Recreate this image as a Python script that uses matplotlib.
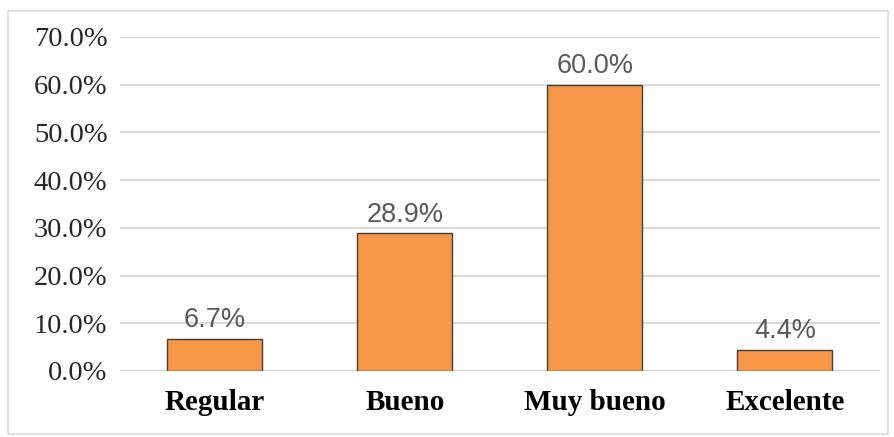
import matplotlib.pyplot as plt
from matplotlib.patches import Rectangle
from matplotlib.ticker import PercentFormatter

# Data
categories = ["Regular", "Bueno", "Muy bueno", "Excelente"]
values = [6.7, 28.9, 60.0, 4.4]

fig = plt.figure(figsize=(8.95, 4.37), dpi=100)
ax = fig.add_axes([120 / 895, 1 - 371 / 437, 760 / 895, 334 / 437])

# light border around the chart area
fig.patches.append(Rectangle((8 / 895, 1 - 434 / 437), 880 / 895, 423 / 437,
                             transform=fig.transFigure, fill=False,
                             edgecolor="#d9d9d9", linewidth=1.2))

x = range(len(categories))
bars = ax.bar(x, values, width=0.5, color="#f79646", edgecolor="#404040", linewidth=1.0, zorder=3)

for b, v in zip(bars, values):
    ax.annotate(f"{v:.1f}%", (b.get_x() + b.get_width() / 2, b.get_height()),
                xytext=(0, 4), textcoords="offset points", ha="center", va="bottom",
                fontsize=19.5, color="#595959", family="Liberation Sans")

ax.set_xlim(-0.5, len(categories) - 0.5)
ax.set_ylim(0, 70)
ax.set_yticks(range(0, 71, 10))
ax.yaxis.set_major_formatter(PercentFormatter(decimals=1))
ax.set_xticks(list(x))
ax.set_xticklabels(categories, fontsize=21, fontweight="bold", family="Liberation Serif")
for lab in ax.get_yticklabels():
    lab.set_family("Liberation Serif")
    lab.set_fontsize(20.5)
    lab.set_color("#262626")

ax.tick_params(axis="both", length=0)
ax.tick_params(axis="x", pad=13)
ax.tick_params(axis="y", pad=9)
ax.grid(True, axis="y", color="#d9d9d9", linewidth=1.5, zorder=0)
for s in ax.spines.values():
    s.set_visible(False)

fig.savefig("out.png", dpi=100)
